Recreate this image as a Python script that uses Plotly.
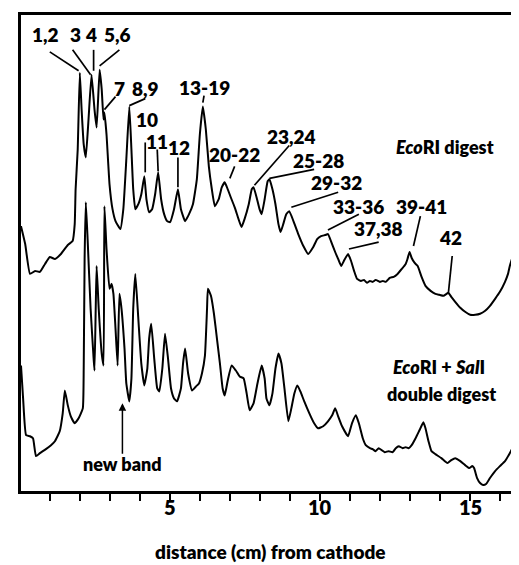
import plotly.graph_objects as go

# Densitometer scans: distance (cm) from cathode vs. relative absorbance (arbitrary units)
ecori_cm = [0.03, 0.17, 0.33, 0.50, 0.66, 0.83, 0.99, 1.16, 1.36, 1.59, 1.75, 1.82, 1.85, 1.92, 1.99,
            2.05, 2.12, 2.19, 2.28, 2.38, 2.48, 2.55, 2.65, 2.72, 2.78, 2.81, 2.88, 2.98, 3.08, 3.18,
            3.34, 3.44, 3.54, 3.64, 3.71, 3.77, 3.84, 3.94, 4.04, 4.14, 4.21, 4.30, 4.40, 4.50, 4.60,
            4.70, 4.80, 4.90, 5.00, 5.13, 5.26, 5.36, 5.50, 5.63, 5.76, 5.89, 5.99, 6.09, 6.19, 6.29,
            6.39, 6.49, 6.62, 6.72, 6.82, 6.92, 7.02, 7.15, 7.28, 7.38, 7.48, 7.62, 7.72, 7.78, 7.88,
            7.98, 8.05, 8.15, 8.25, 8.31, 8.41, 8.51, 8.61, 8.68, 8.77, 8.87, 8.97, 9.11, 9.27, 9.44,
            9.60, 9.77, 9.90, 10.03, 10.17, 10.26, 10.36, 10.50, 10.60, 10.70, 10.79, 10.93, 11.03, 11.13, 11.23,
            11.36, 11.46, 11.56, 11.66, 11.75, 11.85, 11.99, 12.09, 12.19, 12.32, 12.45, 12.58, 12.72, 12.85, 12.91,
            12.98, 13.05, 13.15, 13.25, 13.38, 13.51, 13.68, 13.84, 13.97, 14.11, 14.21, 14.27, 14.37, 14.50, 14.67,
            14.83, 15.00, 15.17, 15.33, 15.50, 15.66, 15.83, 15.99, 16.16, 16.26, 16.32, 16.39, 16.42, 16.46, 16.49,
            16.56, 16.62]
ecori_abs = [26.6, 24.8, 21.8, 22.1, 22.0, 22.8, 23.5, 23.3, 23.8, 24.7, 25.1, 26.8, 30.3, 34.3, 42.0,
             38.3, 34.8, 33.5, 37.3, 41.8, 38.3, 36.5, 42.3, 40.3, 37.3, 38.0, 35.8, 30.8, 28.3, 27.1,
             26.3, 28.3, 33.3, 38.6, 34.3, 30.3, 28.3, 28.8, 29.8, 31.6, 29.3, 28.0, 28.3, 29.8, 32.0,
             29.3, 27.8, 27.1, 27.0, 28.3, 30.3, 28.3, 27.1, 27.8, 28.8, 31.3, 35.8, 38.6, 36.3, 32.6,
             30.3, 28.6, 29.3, 30.5, 31.0, 30.3, 29.5, 28.5, 27.3, 26.5, 27.3, 28.8, 30.3, 30.5, 29.5,
             28.3, 27.8, 29.3, 31.1, 31.3, 30.3, 28.8, 26.8, 26.0, 26.8, 27.8, 28.1, 27.1, 25.8, 24.6,
             23.8, 24.5, 25.3, 25.6, 25.7, 25.8, 25.1, 24.0, 23.3, 22.6, 23.1, 23.8, 23.1, 22.1, 21.3,
             21.1, 21.2, 20.9, 21.1, 21.0, 21.2, 21.0, 21.1, 21.0, 21.4, 21.5, 21.8, 22.3, 22.8, 23.3,
             24.0, 23.4, 22.9, 22.6, 21.5, 20.6, 20.1, 19.8, 19.7, 19.6, 19.8, 19.9, 19.5, 19.0, 18.4,
             18.0, 17.7, 17.7, 17.8, 18.1, 18.6, 19.3, 20.0, 21.0, 21.8, 22.6, 23.3, 23.7, 23.1, 22.8,
             23.8, 24.8]

double_cm = [0.03, 0.10, 0.20, 0.33, 0.43, 0.53, 0.66, 0.86, 1.03, 1.16, 1.32, 1.42, 1.49, 1.59, 1.69,
             1.82, 1.95, 2.09, 2.12, 2.15, 2.19, 2.25, 2.35, 2.45, 2.48, 2.52, 2.55, 2.62, 2.72, 2.78,
             2.81, 2.88, 2.98, 3.05, 3.11, 3.18, 3.25, 3.31, 3.38, 3.48, 3.54, 3.64, 3.71, 3.77, 3.84,
             3.94, 4.04, 4.14, 4.24, 4.30, 4.37, 4.47, 4.57, 4.64, 4.74, 4.83, 4.93, 5.03, 5.13, 5.23,
             5.36, 5.43, 5.50, 5.60, 5.73, 5.86, 5.96, 6.06, 6.16, 6.23, 6.26, 6.36, 6.46, 6.56, 6.66,
             6.75, 6.82, 6.92, 7.05, 7.19, 7.32, 7.45, 7.55, 7.65, 7.78, 7.91, 8.05, 8.15, 8.21, 8.31,
             8.41, 8.51, 8.61, 8.71, 8.81, 8.94, 9.04, 9.14, 9.24, 9.34, 9.47, 9.64, 9.80, 9.93, 10.10,
             10.26, 10.40, 10.50, 10.60, 10.73, 10.93, 11.06, 11.19, 11.29, 11.42, 11.52, 11.66, 11.75, 11.85, 11.95,
             12.05, 12.15, 12.28, 12.42, 12.52, 12.62, 12.75, 12.85, 12.95, 13.05, 13.18, 13.31, 13.44, 13.51, 13.61,
             13.71, 13.84, 14.04, 14.24, 14.37, 14.50, 14.67, 14.83, 14.97, 15.07, 15.13, 15.23, 15.33, 15.43, 15.53,
             15.66, 15.83, 15.99, 16.16, 16.32, 16.49, 16.66]
double_abs = [12.6, 9.3, 5.6, 5.5, 5.3, 3.5, 3.8, 4.2, 4.6, 5.0, 6.0, 7.8, 10.1, 8.6, 7.5,
              6.8, 7.3, 8.3, 12.3, 23.3, 29.0, 25.3, 18.3, 13.3, 12.1, 18.3, 22.6, 18.3, 13.8, 12.6,
              28.6, 24.3, 20.3, 20.8, 19.8, 16.3, 12.6, 19.8, 18.3, 14.3, 10.8, 9.0, 11.3, 18.3, 21.8,
              17.3, 12.8, 10.6, 12.3, 15.3, 16.8, 13.3, 10.3, 10.0, 12.3, 15.8, 13.3, 10.3, 9.3, 9.0,
              10.3, 12.8, 14.3, 11.8, 10.1, 10.5, 10.8, 11.8, 13.6, 18.3, 20.3, 19.6, 17.8, 15.3, 12.8,
              10.3, 9.6, 11.1, 12.6, 12.1, 11.5, 11.3, 9.8, 8.1, 8.8, 10.8, 12.6, 11.3, 9.3, 8.6,
              9.8, 12.3, 13.8, 12.8, 10.3, 7.0, 8.3, 9.8, 10.6, 10.0, 9.0, 7.8, 6.8, 6.3, 6.5,
              7.0, 7.6, 8.3, 7.5, 6.5, 5.5, 6.8, 7.6, 6.8, 5.3, 4.6, 4.3, 4.2, 4.0, 4.3,
              4.1, 3.9, 4.0, 3.9, 4.3, 4.5, 4.3, 4.4, 4.3, 4.6, 5.3, 6.1, 6.9, 6.3, 5.0,
              4.0, 3.7, 3.3, 2.8, 3.1, 3.3, 3.0, 2.6, 2.3, 2.5, 2.3, 1.3, 0.8, 0.6, 0.7,
              1.3, 2.0, 2.5, 3.0, 3.8, 4.8, 6.0]

# Band labels: text, label position (cm, abs), leader line start and end (cm, abs)
band_labels = ["1,2", "3", "4", "5,6", "7", "8,9", "10", "11", "12", "13-19", "20-22",
               "23,24", "25-28", "29-32", "33-36", "37,38", "39-41", "42"]
label_cm = [0.83, 1.85, 2.35, 3.25, 3.31, 4.17, 4.24, 4.57, 5.30, 6.16, 7.15,
            9.04, 9.93, 10.56, 11.29, 11.95, 13.38, 14.34]
label_abs = [45.8, 45.8, 45.8, 45.8, 40.4, 40.4, 37.3, 35.1, 34.5, 40.5, 33.8,
             35.6, 33.2, 31.0, 28.6, 26.4, 28.6, 25.5]
lead_x0 = [0.99, 1.75, 2.45, 3.31, 3.18, 4.17, 4.17, 4.57, 5.26, 6.13, 7.15,
           8.97, 9.80, 10.60, 11.29, 11.95, 13.34, 14.40]
lead_y0 = [44.1, 44.3, 44.3, 44.3, 39.6, 39.4, 35.0, 34.3, 33.5, 39.7, 32.6,
           34.7, 32.3, 30.0, 27.8, 25.0, 27.6, 23.6]
lead_x1 = [1.95, 2.35, 2.45, 2.65, 2.81, 3.64, 4.17, 4.60, 5.26, 6.09, 6.99,
           7.81, 8.31, 9.04, 10.26, 10.96, 13.11, 14.27]
lead_y1 = [42.2, 41.8, 42.2, 42.7, 38.3, 38.7, 32.0, 32.1, 30.5, 39.0, 31.4,
           30.7, 31.4, 28.5, 26.2, 24.3, 24.6, 19.8]

tick_vals = list(range(1, 17))
labelled_ticks = [5, 10, 15]

FONT = "Lato"
fig = go.Figure()
fig.add_trace(go.Scatter(x=ecori_cm, y=ecori_abs, mode="lines",
                         line=dict(color="black", width=2, shape="spline", smoothing=0.4),
                         hoverinfo="skip"))
fig.add_trace(go.Scatter(x=double_cm, y=double_abs, mode="lines",
                         line=dict(color="black", width=2, shape="spline", smoothing=0.4),
                         hoverinfo="skip"))

for i, t in enumerate(band_labels):
    fig.add_annotation(x=label_cm[i], y=label_abs[i], text=t, showarrow=False,
                       font=dict(family=FONT, size=19, color="black", weight=800))
    fig.add_shape(type="line", x0=lead_x0[i], y0=lead_y0[i], x1=lead_x1[i], y1=lead_y1[i],
                  line=dict(color="black", width=1.7))

# tick labels placed just under the short ticks
for v in labelled_ticks:
    fig.add_annotation(x=v, y=-0.062, xref="x", yref="paper", text=str(v), showarrow=False,
                       font=dict(family=FONT, size=20, color="black", weight=800))

fig.add_annotation(x=14.17, y=34.5, text="<i>Eco</i>RI digest", showarrow=False,
                   font=dict(family=FONT, size=18, color="black", weight=800))
fig.add_annotation(x=13.97, y=12.5, text="<i>Eco</i>RI + <i>Sal</i>I", showarrow=False,
                   font=dict(family=FONT, size=18, color="black", weight=800))
fig.add_annotation(x=14.04, y=9.7, text="double digest", showarrow=False,
                   font=dict(family=FONT, size=18, color="black", weight=800))
fig.add_annotation(x=3.41, y=2.7, text="new band", showarrow=False,
                   font=dict(family=FONT, size=18, color="black", weight=800))
fig.add_annotation(x=3.41, y=8.8, ax=3.41, ay=3.6, axref="x", ayref="y", text="",
                   showarrow=True, arrowhead=2, arrowsize=1, arrowwidth=1.5, arrowcolor="black")
fig.add_annotation(x=0.5, y=-0.156, xref="paper", yref="paper", text="distance (cm) from cathode",
                   showarrow=False, font=dict(family=FONT, size=19, color="black", weight=800))

fig.update_layout(
    width=519, height=565, autosize=False,
    margin=dict(l=13, r=4, t=5, b=82),
    paper_bgcolor="white", plot_bgcolor="white",
    showlegend=False,
    xaxis=dict(range=[0.03, 16.66], showgrid=False, zeroline=False,
               showline=True, linecolor="black", linewidth=2.5, mirror=True,
               ticks="outside", ticklen=7, tickwidth=2, tickcolor="black",
               tickvals=tick_vals, showticklabels=False),
    yaxis=dict(range=[0, 47.8], showgrid=False, zeroline=False,
               showline=True, linecolor="black", linewidth=2.5, mirror=True,
               showticklabels=False, ticks=""),
)
fig.write_html("out.html")
